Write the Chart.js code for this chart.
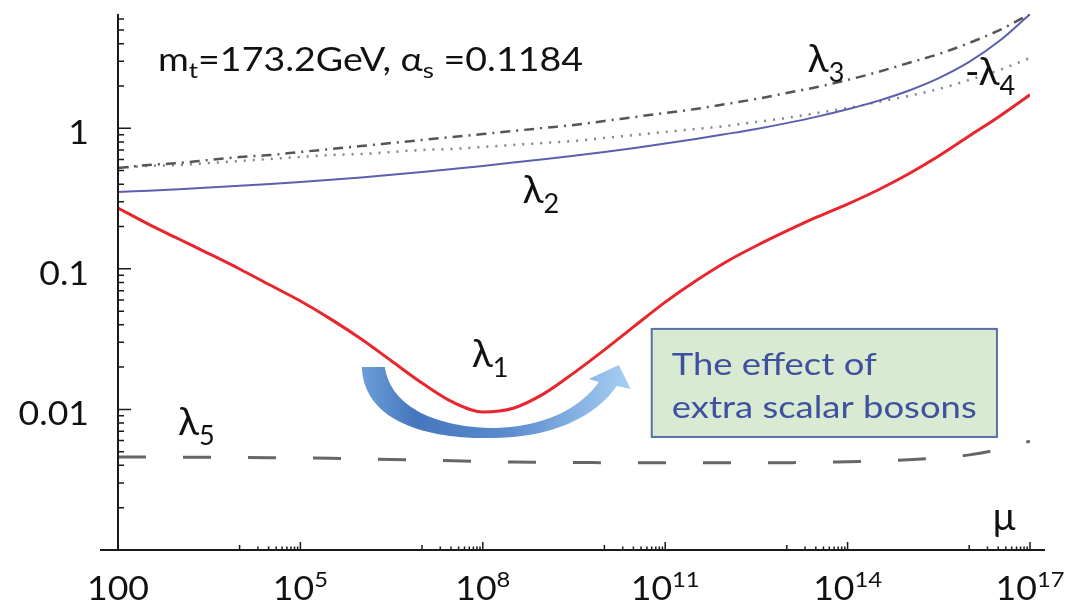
<!DOCTYPE html>
<html>
<head>
<meta charset="utf-8">
<script src="https://cdn.jsdelivr.net/npm/chart.js@4.4.1/dist/chart.umd.min.js"></script>
<style>
  html, body { margin: 0; padding: 0; background: #fff; }
  #wrap { width: 1079px; height: 606px; }
</style>
</head>
<body>
<div id="wrap"><canvas id="myChart" width="1079" height="606"></canvas></div>
<script>
// renormalization scale mu (GeV) and the running couplings
const mu = [1e2, 3.16e2, 1e3, 3.16e3, 1e4, 3.16e4, 1e5, 3.16e5, 1e6, 3.16e6, 1e7, 3.16e7, 1e8, 3.16e8,
  1e9, 3.16e9, 1e10, 3.16e10, 1e11, 3.16e11, 1e12, 3.16e12, 1e13, 3.16e13, 1e14, 3.16e14,
  1e15, 3.16e15, 1e16, 3.16e16, 1e17];
const lambda1 = [0.271, 0.208, 0.163, 0.128, 0.0998, 0.0767, 0.059, 0.0439, 0.0317, 0.0221, 0.0154, 0.0113, 0.0096, 0.0102,
  0.0129, 0.0182, 0.0265, 0.0393, 0.058, 0.082, 0.112, 0.146, 0.186, 0.234, 0.289, 0.364,
  0.473, 0.635, 0.881, 1.22, 1.73];
const lambda2 = [0.352, 0.3597, 0.3685, 0.3784, 0.3895, 0.4018, 0.415, 0.430, 0.4472, 0.4667, 0.4884, 0.5126, 0.540, 0.570,
  0.6028, 0.6384, 0.6779, 0.7246, 0.7783, 0.8397, 0.9097, 0.989, 1.088, 1.21, 1.365, 1.567,
  1.85, 2.276, 2.966, 4.19, 6.49];
const lambda3 = [0.522, 0.548, 0.566, 0.595, 0.625, 0.645, 0.678, 0.712, 0.748, 0.786, 0.826, 0.867, 0.910, 0.957,
  1.005, 1.055, 1.127, 1.203, 1.285, 1.372, 1.489, 1.616, 1.782, 1.966, 2.207, 2.514,
  2.913, 3.375, 4.045, 5.0, 6.5];
const minusLambda4 = [0.522, 0.540, 0.548, 0.566, 0.585, 0.605, 0.625, 0.645, 0.656, 0.678, 0.701, 0.712, 0.736, 0.761,
  0.786, 0.812, 0.853, 0.896, 0.942, 0.989, 1.038, 1.109, 1.184, 1.285, 1.394, 1.538,
  1.698, 1.903, 2.207, 2.600, 3.162];
const lambda5 = [0.00459, 0.00458, 0.00457, 0.00456, 0.00455, 0.00454, 0.00452, 0.00449, 0.00445, 0.00441, 0.00436, 0.00431, 0.00426, 0.00423,
  0.00421, 0.00419, 0.00418, 0.00417, 0.00417, 0.00417, 0.00417, 0.00417, 0.00418, 0.0042, 0.00425, 0.0043,
  0.00438, 0.00452, 0.00475, 0.0052, 0.00595];

const xTickValues = [1e2, 1e5, 1e8, 1e11, 1e14, 1e17];
const xTickBase = ["100", "10", "10", "10", "10", "10"];
const xTickExp = ["", "5", "8", "11", "14", "17"];
const yTickValues = [0.01, 0.1, 1];
const yTickLabels = ["0.01", "0.1", "1"];

const FONT = "Lato, 'Open Sans', sans-serif";

function pts(vals) {
  return mu.map((m, i) => ({ x: m, y: vals[i] }));
}

function partsWidth(ctx, parts) {
  let w = 0;
  parts.forEach(p => {
    ctx.font = p[1] + "px " + FONT;
    w += ctx.measureText(p[0]).width;
  });
  return w;
}

function drawParts(ctx, parts, px, py, k) {
  ctx.save();
  ctx.translate(px, py);
  ctx.scale(k, 1);
  let cx = 0;
  parts.forEach(p => {
    ctx.font = p[1] + "px " + FONT;
    ctx.fillText(p[0], cx, p[2] || 0);
    cx += ctx.measureText(p[0]).width;
  });
  ctx.restore();
}

const decorations = {
  id: "decorations",
  afterDatasetsDraw(chart) {
    const { ctx, chartArea: a, scales: { x, y } } = chart;
    const P = (m, v) => [x.getPixelForValue(m), y.getPixelForValue(v)];
    ctx.save();
    ctx.textAlign = "left";
    ctx.textBaseline = "alphabetic";

    // curved arrow, anchored under the minimum of lambda1
    const [ax, ay] = P(1.7e8, 0.00627);
    const o = (dx, dy) => [ax + dx, ay + dy];
    const grad = ctx.createLinearGradient(ax - 135, 0, ax + 132, 0);
    grad.addColorStop(0, "#6c9fd8");
    grad.addColorStop(0.2, "#4676bd");
    grad.addColorStop(0.55, "#5a8ccd");
    grad.addColorStop(1, "#a6cff2");
    ctx.fillStyle = grad;
    ctx.beginPath();
    ctx.moveTo(...o(-135, -71));
    ctx.bezierCurveTo(...o(-133, -18), ...o(-73, 2), ...o(-1, 0));
    ctx.bezierCurveTo(...o(54, -1), ...o(98, -20), ...o(120, -52));
    ctx.lineTo(...o(134, -49));
    ctx.lineTo(...o(122, -73));
    ctx.lineTo(...o(92, -59));
    ctx.lineTo(...o(102, -56));
    ctx.bezierCurveTo(...o(84, -30), ...o(47, -11), ...o(-1, -10));
    ctx.bezierCurveTo(...o(-58, -10), ...o(-106, -30), ...o(-112, -71));
    ctx.closePath();
    ctx.fill();

    // annotation box
    const [bx0, by0] = P(6.0e10, 0.0374);
    const [bx1, by1] = P(2.86e16, 0.00637);
    ctx.fillStyle = "#d9ead3";
    ctx.fillRect(bx0, by0, bx1 - bx0, by1 - by0);
    ctx.strokeStyle = "#5670a8";
    ctx.lineWidth = 2;
    ctx.strokeRect(bx0, by0, bx1 - bx0, by1 - by0);
    ctx.fillStyle = "#3f519e";
    const line2 = [["extra scalar bosons", 30]];
    const kb = 305 / partsWidth(ctx, line2);
    drawParts(ctx, [["The effect of", 30]], bx0 + 20, by0 + 46, kb);
    drawParts(ctx, line2, bx0 + 20, by0 + 89, kb);

    // text labels
    ctx.fillStyle = "#111";
    const header = [["m", 32], ["t", 22, 7], ["=173.2GeV, ", 32], ["\u03b1", 32], ["s", 22, 7], [" =0.1184", 32]];
    const kh = 425 / partsWidth(ctx, header);
    drawParts(ctx, header, ...P(455, 2.56), kh);
    const lam = (s, sub) => [[s, 39], [sub, 27, 10]];
    drawParts(ctx, lam("\u03bb", "3"), ...P(2.2e13, 2.52), 1);
    drawParts(ctx, lam("-\u03bb", "4"), ...P(8.5e15, 2.04), 1);
    drawParts(ctx, lam("\u03bb", "2"), ...P(4.5e8, 0.295), 1);
    drawParts(ctx, lam("\u03bb", "1"), ...P(6.6e7, 0.02), 1);
    drawParts(ctx, lam("\u03bb", "5"), ...P(9.7e2, 0.00659), 1);
    drawParts(ctx, [["\u03bc", 38]], ...P(2.45e16, 0.00139), 1);

    // axes
    ctx.strokeStyle = "#1a1a1a";
    ctx.lineWidth = 2;
    ctx.beginPath();
    ctx.moveTo(a.left, a.top);
    ctx.lineTo(a.left, a.bottom);
    ctx.moveTo(a.left - 18, a.bottom);
    ctx.lineTo(a.right + 15, a.bottom);
    ctx.stroke();

    // y ticks (inside)
    ctx.lineWidth = 1.5;
    ctx.beginPath();
    for (let d = -3; d <= 0; d++) {
      for (let m = 1; m <= 9; m++) {
        const v = m * Math.pow(10, d);
        if (v <= y.min * 1.0001 || v > y.max) continue;
        const py = y.getPixelForValue(v);
        const len = m === 1 ? 13 : 6;
        ctx.moveTo(a.left, py);
        ctx.lineTo(a.left + len, py);
      }
    }
    // x ticks (only in the decade before each labelled one)
    xTickValues.slice(1).forEach(tv => {
      const base = tv / 10;
      for (let m = 1; m <= 10; m++) {
        const px = x.getPixelForValue(m * base);
        const len = m === 10 ? 8 : (m === 1 ? 5 : 3.5);
        ctx.moveTo(px, a.bottom);
        ctx.lineTo(px, a.bottom - len);
      }
    });
    ctx.stroke();

    // tick labels
    ctx.fillStyle = "#111";
    const kt = 62 / partsWidth(ctx, [["100", 33]]);
    xTickValues.forEach((tv, i) => {
      const parts = [[xTickBase[i], 33]];
      if (xTickExp[i]) parts.push([xTickExp[i], 22, -13]);
      const w = partsWidth(ctx, parts) * kt;
      drawParts(ctx, parts, x.getPixelForValue(tv) - w / 2, a.bottom + 50, kt);
    });
    yTickValues.forEach((tv, i) => {
      const parts = [[yTickLabels[i], 33]];
      const w = partsWidth(ctx, parts) * kt;
      drawParts(ctx, parts, 89 - w, y.getPixelForValue(tv) + 16, kt);
    });
    ctx.restore();
  }
};

const ctx = document.getElementById("myChart");

const myChart = new Chart(ctx, {
  type: "line",
  data: {
    datasets: [
      { label: "lambda1", data: pts(lambda1), borderColor: "#e8262d", borderWidth: 3, order: 1 },
      { label: "lambda2", data: pts(lambda2), borderColor: "#5b5fae", borderWidth: 2, order: 2 },
      { label: "lambda3", data: pts(lambda3), borderColor: "#555", borderWidth: 2.5, borderDash: [10, 6, 2, 6], order: 3 },
      { label: "-lambda4", data: pts(minusLambda4), borderColor: "#80858f", borderWidth: 2.5, borderDash: [2, 7], order: 4 },
      { label: "lambda5", data: pts(lambda5), borderColor: "#666", borderWidth: 3, borderDash: [28, 37], order: 5 }
    ]
  },
  options: {
    responsive: false,
    animation: false,
    devicePixelRatio: 1,
    layout: { padding: { left: 118, right: 49, top: 14, bottom: 56 } },
    elements: {
      point: { radius: 0 },
      line: { cubicInterpolationMode: "monotone", fill: false }
    },
    plugins: { legend: { display: false }, tooltip: { enabled: false } },
    scales: {
      x: { type: "logarithmic", min: 1e2, max: 1e17, display: false },
      y: { type: "logarithmic", min: 0.001, max: 6.5, display: false }
    }
  },
  plugins: [decorations]
});
</script>
</body>
</html>
